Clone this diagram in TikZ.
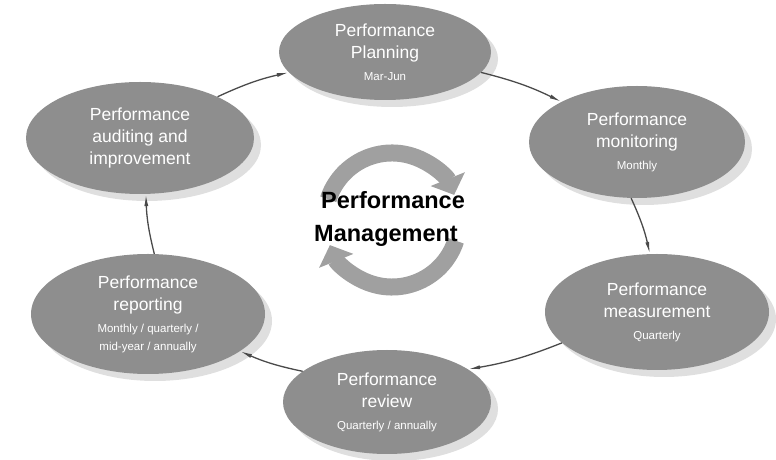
\documentclass[tikz,border=0pt]{standalone}
\usepackage{fontspec}
\setmainfont{Liberation Sans}
\usetikzlibrary{shapes.geometric,arrows.meta,shadows}
\definecolor{stagefill}{HTML}{8E8E8E}
\definecolor{ringfill}{HTML}{A0A0A0}
\definecolor{linkcol}{HTML}{4A4A4A}
\tikzset{
  stage/.style={ellipse, fill=stagefill, draw=none, text=white, align=center, inner sep=0pt,
    font=\fontsize{17.5}{22}\selectfont,
    drop shadow={shadow xshift=7pt, shadow yshift=-7pt, fill=black!18, opacity=0.7}},
  link/.style={draw=linkcol, line width=1.3pt, -{Latex[length=12pt,width=4pt]}},
  ringarc/.style={draw=ringfill, line width=17pt, -{Triangle[length=17pt,width=36pt]}},
  centertext/.style={font=\fontsize{23.5}{28}\selectfont\bfseries, text=black, inner sep=0pt}
}
\newcommand{\subtxt}[1]{{\fontsize{11.5}{15}\selectfont #1}}
\begin{document}
\begin{tikzpicture}[x=1pt,y=1pt]
\useasboundingbox (0,0) rectangle (776,460);
% stages
\node[stage, minimum width=212pt, minimum height=96pt] (plan) at (385,408)
  {Performance\\Planning\\\subtxt{Mar-Jun}};
\node[stage, minimum width=216pt, minimum height=112pt] (mon) at (637,318)
  {Performance\\monitoring\\\subtxt{Monthly}};
\node[stage, minimum width=228pt, minimum height=112pt] (aud) at (140,322)
  {Performance\\auditing and\\improvement};
\node[stage, minimum width=224pt, minimum height=116pt] (meas) at (657,148)
  {Performance\\measurement\\\subtxt{Quarterly}};
\node[stage, minimum width=234pt, minimum height=120pt] (rep) at (148,146)
  {Performance\\reporting\\\subtxt{Monthly / quarterly /}\\[-4pt]\subtxt{mid-year / annually}};
\node[stage, minimum width=208pt, minimum height=104pt] (rev) at (387,58)
  {Performance\\review\\\subtxt{Quarterly / annually}};
% connectors
\draw[link] (plan.-12) to[bend left=6] (mon.152);
\draw[link] (mon.-96) to[bend left=6] (meas.97);
\draw[link] (meas.198) to[bend left=6] (rev.22);
\draw[link] (rev.160) to[bend left=6] (rep.-22);
\draw[link] (rep.84) to[bend left=6] (aud.-84);
\draw[link] (aud.28) to[bend left=6] (plan.192);
% central ring
\coordinate (c) at (392,240);
\draw[ringarc] ([shift={(162:67)}]c) arc[start angle=162, end angle=22, radius=67];
\draw[ringarc] ([shift={(-18:67)}]c) arc[start angle=-18, end angle=-158, radius=67];
\node[centertext] (t1) at (393,260) {Performance};
\node[centertext] (t2) at (386,224) {Management};
\end{tikzpicture}
\end{document}
